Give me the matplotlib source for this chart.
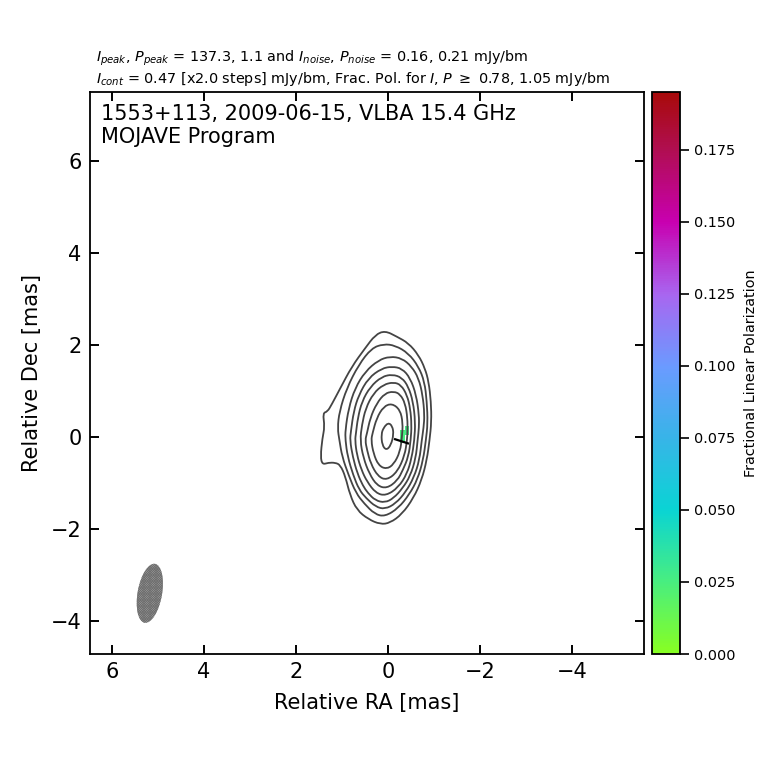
import numpy as np
import matplotlib
matplotlib.use("Agg")
import matplotlib.pyplot as plt
from matplotlib.colors import LinearSegmentedColormap, Normalize
from matplotlib.cm import ScalarMappable
from matplotlib.patches import Ellipse, PathPatch
from matplotlib.path import Path

plt.rcParams['hatch.linewidth'] = 0.5

c1x = [.07,-.19,-.44,-.66,-.80,-.88,-.93,-.94,-.90,-.84,-.73,-.55,-.30,-.04,.17,.43,.68,.83,.93,1.04,1.15,1.30,1.43,1.47,1.43,1.38,1.42,1.32,1.23,1.04,.79,.50,.28]
c1y = [2.31,2.18,2.04,1.78,1.49,1.20,.77,.33,-.07,-.50,-.93,-1.33,-1.68,-1.87,-1.90,-1.79,-1.59,-1.26,-.86,-.61,-.56,-.56,-.60,-.43,-.03,.22,.52,.55,.70,1.06,1.53,1.93,2.22]
c2x = [.10,-.15,-.44,-.66,-.79,-.84,-.86,-.82,-.76,-.64,-.46,-.22,.07,.29,.52,.70,.86,1.00,1.06,1.10,1.06,.90,.64,.36]
c2y = [2.02,1.99,1.82,1.53,1.20,.77,.30,-.07,-.50,-.92,-1.25,-1.55,-1.73,-1.68,-1.45,-1.22,-.83,-.43,-.07,.19,.55,1.06,1.57,1.93]
c3x = [-.04,-.30,-.51,-.66,-.75,-.79,-.77,-.73,-.68,-.56,-.38,-.16,.07,.27,.48,.63,.76,.88,.93,.93,.86,.72,.50,.21]
c3y = [1.75,1.71,1.53,1.28,.91,.48,.20,-.07,-.50,-.88,-1.20,-1.45,-1.57,-1.52,-1.33,-1.15,-.83,-.43,-.07,.15,.62,1.06,1.42,1.67]
c4x = [-.08,-.30,-.48,-.61,-.67,-.67,-.64,-.60,-.48,-.31,-.12,.07,.28,.44,.55,.67,.77,.83,.81,.75,.64,.43,.14]
c4y = [1.53,1.49,1.28,.91,.48,.20,-.07,-.46,-.85,-1.12,-1.33,-1.43,-1.38,-1.22,-1.06,-.79,-.43,-.07,.12,.55,.91,1.28,1.49]
c5x = [-.09,-.30,-.44,-.54,-.59,-.57,-.51,-.41,-.22,.05,.27,.46,.58,.68,.72,.70,.66,.57,.39,.14]
c5y = [1.36,1.29,1.09,.77,.33,-.07,-.46,-.80,-1.10,-1.28,-1.22,-.97,-.72,-.39,-.07,.08,.41,.77,1.09,1.31]
c6x = [-.12,-.28,-.41,-.48,-.51,-.49,-.44,-.32,-.20,.03,.24,.41,.54,.61,.57,.49,.32,.10]
c6y = [1.19,1.13,.91,.62,.26,-.07,-.43,-.72,-.95,-1.12,-1.06,-.80,-.45,-.07,.26,.62,.95,1.14]
c7x = [-.12,-.26,-.37,-.42,-.42,-.41,-.36,-.20,.03,.22,.38,.46,.50,.46,.39,.25,.07]
c7y = [.99,.93,.73,.41,.12,-.07,-.40,-.76,-.94,-.86,-.58,-.28,-.07,.08,.41,.73,.95]
c8x = [-.08,-.26,-.32,-.30,-.26,-.12,.04,.21,.32,.37,.34,.25,.10]
c8y = [.73,.59,.30,.00,-.32,-.60,-.70,-.62,-.36,-.07,.08,.41,.66]
c9x = [.00,-.09,-.12,-.06,.04,.13,.15,.10]
c9y = [.31,.24,.06,-.18,-.29,-.18,.06,.20]
contours = [(c1x,c1y),(c2x,c2y),(c3x,c3y),(c4x,c4y),(c5x,c5y),(c6x,c6y),(c7x,c7y),(c8x,c8y),(c9x,c9y)]

pol_x_edges = [-.46, -.36, -.26]
pol_y_edges = [-.14, -.04, .05, .15, .24]
pol_values = [[np.nan, .026],
              [np.nan, .025],
              [.026, .025],
              [.027, np.nan]]
evpa_x = [-.15, -.43]
evpa_y = [-.05, -.14]

cbar_ticks = [0, .025, .05, .075, .1, .125, .15, .175]
cbar_labels = ['0.000','0.025','0.050','0.075','0.100','0.125','0.150','0.175']
ra_ticks = [6, 4, 2, 0, -2, -4]
dec_ticks = [-4, -2, 0, 2, 4, 6]

cmap = LinearSegmentedColormap.from_list('pol', [
    (0.0, '#88ff22'), (.128, '#48ee80'), (.256, '#0ad4d4'), (.385, '#38b4e8'),
    (.51, '#6a9bff'), (.64, '#a866f0'), (.77, '#c800b0'), (.9, '#b00e50'), (1.0, '#a80a0a')])
norm = Normalize(0, .195)


def closed_curve(xs, ys):
    p = np.column_stack([xs, ys])
    mids = (p + np.roll(p, -1, axis=0)) / 2
    verts = [mids[-1]]
    codes = [Path.MOVETO]
    for ctrl, end in zip(p, mids):
        verts += [ctrl, end]
        codes += [Path.CURVE3, Path.CURVE3]
    return Path(verts, codes)


fig = plt.figure(figsize=(7.6, 7.6), dpi=100)
ax = fig.add_axes([90/760, 1-654/760, 554/760, 562/760])
ax.set_xlim(6.48, -5.56)
ax.set_ylim(-4.72, 7.5)

ax.pcolormesh(pol_x_edges, pol_y_edges, np.ma.masked_invalid(pol_values), cmap=cmap, norm=norm)
for x, y in contours:
    ax.add_patch(PathPatch(closed_curve(x, y), facecolor='none', edgecolor='#444444', lw=1.3))
ax.plot(evpa_x, evpa_y, color='black', lw=1.6)
ax.add_patch(Ellipse((5.18, -3.40), 1.3, .53, angle=100, facecolor='#9a9a9a',
                     edgecolor='#6e6e6e', hatch='x'*14, lw=0))

ax.set_xticks(ra_ticks)
ax.set_yticks(dec_ticks)
ax.tick_params(direction='in', top=True, right=True, length=6.5, width=1.4, labelsize=15, pad=6)
for s in ax.spines.values():
    s.set_linewidth(1.3)
ax.set_xlabel('Relative RA [mas]', fontsize=15, labelpad=8)
ax.set_ylabel('Relative Dec [mas]', fontsize=15, labelpad=6.5)

ax.text(.019, .978, '1553+113, 2009-06-15, VLBA 15.4 GHz\nMOJAVE Program', transform=ax.transAxes,
        fontsize=15, va='top', ha='left', linespacing=1.14)
fig.text(95.5/760, 1-58.5/760,
         r'$I_{peak}$, $P_{peak}$ = 137.3, 1.1 and $I_{noise}$, $P_{noise}$ = 0.16, 0.21 mJy/bm',
         fontsize=10.4, va='center', ha='left')
fig.text(95.5/760, 1-79.5/760,
         r'$I_{cont}$ = 0.47 [x2.0 steps] mJy/bm, Frac. Pol. for $I$, $P$ $\geq$ 0.78, 1.05 mJy/bm',
         fontsize=10.4, va='center', ha='left')

cax = fig.add_axes([652/760, 1-654/760, 28/760, 562/760])
cb = fig.colorbar(ScalarMappable(norm=norm, cmap=cmap), cax=cax)
cb.set_ticks(cbar_ticks)
cb.set_ticklabels(cbar_labels)
cb.ax.tick_params(labelsize=10.35, length=6.5, width=1.2, pad=3.5)
cb.outline.set_linewidth(1.3)
cb.set_label('Fractional Linear Polarization', fontsize=10.4, labelpad=6)

fig.savefig('out.png', dpi=100)
